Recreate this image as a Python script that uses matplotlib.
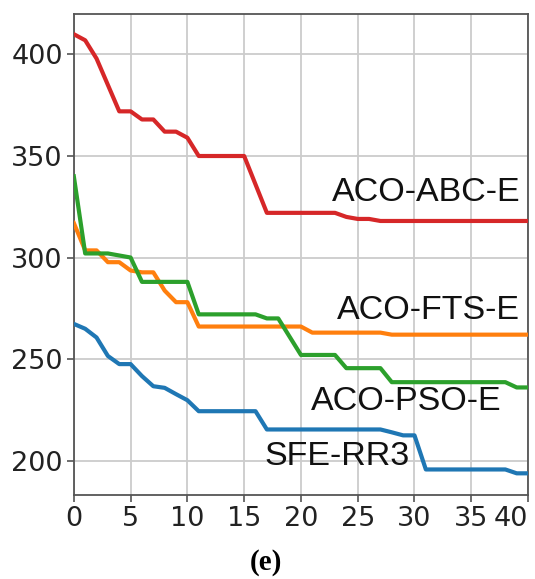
import matplotlib.pyplot as plt
import numpy as np

# iteration index
iters = np.arange(0, 41)

# best objective value per iteration
aco_abc_e = [410, 407, 398, 385, 372, 372, 368, 368, 362, 362, 359,
             350, 350, 350, 350, 350, 336, 322, 322, 322, 322, 322, 322, 322,
             320, 319, 319, 318, 318, 318, 318, 318, 318, 318, 318, 318,
             318, 318, 318, 318, 318]
aco_fts_e = [317, 303.5, 303.5, 297.7, 297.7, 293.6, 292.7, 292.7, 283.7, 278, 278,
             266, 266, 266, 266, 266, 266, 266, 266, 266, 266,
             263, 263, 263, 263, 263, 263, 263,
             262, 262, 262, 262, 262, 262, 262, 262, 262, 262, 262, 262, 262]
aco_pso_e = [340, 302, 302, 302, 301, 300, 288, 288, 288, 288, 288,
             272, 272, 272, 272, 272, 272, 270, 270, 261, 252, 252, 252, 252,
             245.5, 245.5, 245.5, 245.5, 238.6, 238.6, 238.6, 238.6, 238.6, 238.6,
             238.6, 238.6, 238.6, 238.6, 238.6, 236, 236]
sfe_rr3 = [267.3, 264.9, 260.6, 251.5, 247.5, 247.5, 241.6, 236.6, 235.8, 232.7, 229.7,
           224.3, 224.3, 224.3, 224.3, 224.3, 224.3, 215.3, 215.3, 215.3, 215.3, 215.3,
           215.3, 215.3, 215.3, 215.3, 215.3, 215.3, 213.9, 212.4, 212.4,
           195.6, 195.6, 195.6, 195.6, 195.6, 195.6, 195.6, 195.6, 193.7, 193.7]

series = [
    ("ACO-ABC-E", aco_abc_e, "#d62728", 39.3, 332),
    ("ACO-FTS-E", aco_fts_e, "#ff7f0e", 39.3, 274),
    ("ACO-PSO-E", aco_pso_e, "#2ca02c", 37.7, 229),
    ("SFE-RR3", sfe_rr3, "#1f77b4", 29.6, 202),
]

fig = plt.figure(figsize=(5.35, 5.79), dpi=100)
ax = fig.add_axes([0.138, 0.145, 0.849, 0.831])

for name, vals, col, tx, ty in series:
    ax.plot(iters, vals, color=col, lw=3.0, zorder=3)
    ax.text(tx, ty, name, ha="right", va="center", fontsize=24.5,
            family="Liberation Sans", color="#111111", zorder=4)

ax.set_xlim(0, 40)
ax.set_ylim(183, 420)
ax.set_xticks(range(0, 41, 5))
ax.set_yticks([200, 250, 300, 350, 400])
ax.tick_params(labelsize=19.5, length=5, width=1.2, color="#555555",
               labelcolor="#222222", pad=3)
# last x label sits flush with the right spine
ax.get_xticklabels()[-1].set_ha("right")
ax.grid(True, color="#cccccc", lw=1.3)
ax.set_axisbelow(True)
for sp in ax.spines.values():
    sp.set_color("#555555")
    sp.set_linewidth(1.3)

fig.text(0.497, 0.028, "(e)", ha="center", va="center", fontsize=21,
         fontweight="bold", family="Liberation Serif")

fig.savefig("out.png", dpi=100)
